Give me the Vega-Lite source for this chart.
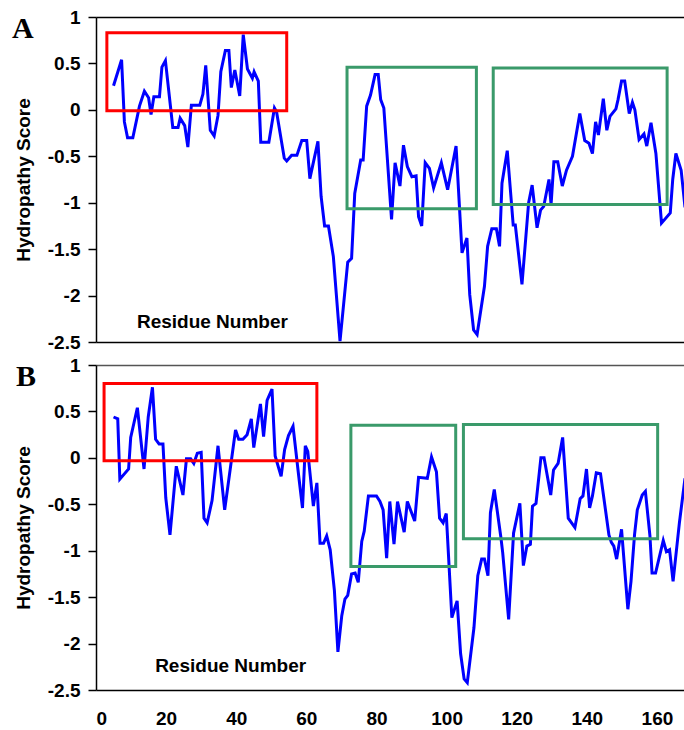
{
  "$schema": "https://vega.github.io/schema/vega-lite/v6.json",
  "background": "white",
  "padding": {"left": 12, "top": 8, "right": 0, "bottom": 0},
  "bounds": "flush",
  "spacing": 23,
  "config": {
    "view": {"stroke": null},
    "font": "Liberation Sans",
    "axis": {
      "labelFont": "Liberation Sans", "labelFontWeight": "bold", "labelFontSize": 19, "labelColor": "black",
      "titleFont": "Liberation Sans", "titleFontWeight": "bold", "titleFontSize": 19, "titleColor": "black",
      "domainColor": "black", "domainWidth": 1.5, "tickColor": "black", "tickWidth": 1.5
    },
    "title": {"font": "Liberation Serif", "fontWeight": "bold", "fontSize": 30, "color": "black", "anchor": "start", "frame": "group", "offset": 0, "baseline": "alphabetic"}
  },
  "datasets": {
    "profileA": [
      {"r":5,"v":0.26},{"r":7.3,"v":0.54},{"r":8.1,"v":-0.13},{"r":9,"v":-0.30},{"r":10.5,"v":-0.30},{"r":12.4,"v":0.04},{"r":13.8,"v":0.20},{"r":15,"v":0.13},{"r":15.7,"v":-0.05},{"r":16.5,"v":0.14},{"r":18.1,"v":0.14},{"r":18.8,"v":0.46},{"r":19.8,"v":0.53},{"r":21.9,"v":-0.19},{"r":23.4,"v":-0.19},{"r":24,"v":-0.09},{"r":25.3,"v":-0.17},{"r":26.2,"v":-0.40},{"r":27.2,"v":0.05},{"r":29.6,"v":0.05},{"r":30.5,"v":0.17},{"r":31.3,"v":0.48},{"r":32.6,"v":-0.22},{"r":33.7,"v":-0.28},{"r":34.8,"v":-0.06},{"r":35.6,"v":0.41},{"r":36.9,"v":0.64},{"r":37.9,"v":0.64},{"r":38.6,"v":0.24},{"r":39.6,"v":0.43},{"r":41,"v":0.15},{"r":42,"v":0.81},{"r":43.2,"v":0.44},{"r":44.6,"v":0.34},{"r":45.1,"v":0.41},{"r":46.3,"v":0.31},{"r":47,"v":-0.35},{"r":49.3,"v":-0.35},{"r":50.9,"v":0.02},{"r":51.5,"v":-0.02},{"r":53.7,"v":-0.52},{"r":54.4,"v":-0.55},{"r":55.8,"v":-0.49},{"r":57.3,"v":-0.49},{"r":58.7,"v":-0.33},{"r":60.1,"v":-0.33},{"r":61,"v":-0.74},{"r":63.3,"v":-0.34},{"r":64.2,"v":-0.93},{"r":65.2,"v":-1.25},{"r":66.3,"v":-1.25},{"r":67.7,"v":-1.58},{"r":69.6,"v":-2.49},{"r":71.8,"v":-1.64},{"r":72.9,"v":-1.60},{"r":73.8,"v":-0.90},{"r":75.5,"v":-0.54},{"r":76.2,"v":-0.54},{"r":77.2,"v":0.04},{"r":78.3,"v":0.16},{"r":79.6,"v":0.38},{"r":80.5,"v":0.38},{"r":81.2,"v":0.11},{"r":82.1,"v":0.02},{"r":84.3,"v":-1.18},{"r":85.3,"v":-0.57},{"r":86.7,"v":-0.82},{"r":87.7,"v":-0.38},{"r":88.8,"v":-0.61},{"r":90.1,"v":-0.72},{"r":91.3,"v":-0.71},{"r":92,"v":-1.15},{"r":92.9,"v":-1.25},{"r":93.9,"v":-0.57},{"r":95.1,"v":-0.63},{"r":96.3,"v":-0.84},{"r":98.5,"v":-0.57},{"r":100.3,"v":-0.86},{"r":102.7,"v":-0.39},{"r":104.4,"v":-1.54},{"r":105.8,"v":-1.38},{"r":106.6,"v":-1.99},{"r":107.7,"v":-2.37},{"r":108.7,"v":-2.42},{"r":110.8,"v":-1.90},{"r":111.7,"v":-1.47},{"r":112.9,"v":-1.28},{"r":114.2,"v":-1.28},{"r":115.1,"v":-1.47},{"r":115.8,"v":-0.79},{"r":117.3,"v":-0.44},{"r":119,"v":-1.24},{"r":119.6,"v":-1.24},{"r":121.5,"v":-1.88},{"r":123.4,"v":-1.00},{"r":124.4,"v":-0.81},{"r":125.8,"v":-1.27},{"r":126.8,"v":-1.08},{"r":127.7,"v":-1.04},{"r":129.2,"v":-0.75},{"r":129.8,"v":-1.02},{"r":130.6,"v":-0.56},{"r":131.7,"v":-0.56},{"r":133,"v":-0.82},{"r":134.2,"v":-0.65},{"r":135.9,"v":-0.50},{"r":138,"v":-0.04},{"r":139.4,"v":-0.33},{"r":140.6,"v":-0.36},{"r":141.6,"v":-0.47},{"r":142.5,"v":-0.13},{"r":143.3,"v":-0.27},{"r":144.7,"v":0.12},{"r":145.7,"v":-0.22},{"r":146.6,"v":-0.07},{"r":148.3,"v":0.01},{"r":148.9,"v":0.11},{"r":149.9,"v":0.31},{"r":150.8,"v":0.31},{"r":152.1,"v":-0.04},{"r":153,"v":0.08},{"r":153.7,"v":0.0},{"r":154.9,"v":-0.32},{"r":156.3,"v":-0.26},{"r":157.1,"v":-0.39},{"r":158.3,"v":-0.14},{"r":159.7,"v":-0.47},{"r":161.3,"v":-1.22},{"r":163.8,"v":-1.11},{"r":164.5,"v":-0.75},{"r":165.4,"v":-0.47},{"r":166.9,"v":-0.65},{"r":168,"v":-1.05}
    ],
    "profileB": [
      {"r":5,"v":0.44},{"r":6.2,"v":0.42},{"r":6.8,"v":-0.23},{"r":9.3,"v":-0.12},{"r":9.9,"v":0.22},{"r":11.8,"v":0.54},{"r":13.7,"v":-0.12},{"r":14.9,"v":0.44},{"r":16.1,"v":0.76},{"r":17,"v":0.20},{"r":18,"v":0.15},{"r":19.1,"v":0.15},{"r":19.9,"v":-0.43},{"r":21.1,"v":-0.83},{"r":22.9,"v":-0.09},{"r":24.8,"v":-0.40},{"r":25.8,"v":-0.01},{"r":27,"v":-0.01},{"r":27.9,"v":-0.06},{"r":28.9,"v":0.05},{"r":30,"v":0.06},{"r":30.8,"v":-0.65},{"r":31.7,"v":-0.70},{"r":33.1,"v":-0.46},{"r":34.8,"v":0.13},{"r":36.7,"v":-0.56},{"r":39.8,"v":0.30},{"r":40.7,"v":0.20},{"r":41.9,"v":0.20},{"r":43.1,"v":0.25},{"r":44.3,"v":0.42},{"r":45,"v":0.11},{"r":46.9,"v":0.58},{"r":47.8,"v":0.23},{"r":48.8,"v":0.62},{"r":50.2,"v":0.74},{"r":51.1,"v":0.02},{"r":52.8,"v":-0.20},{"r":53.8,"v":0.09},{"r":54.9,"v":0.24},{"r":56.2,"v":0.34},{"r":57.8,"v":-0.19},{"r":58.9,"v":-0.54},{"r":59.7,"v":0.13},{"r":60.4,"v":0.07},{"r":62,"v":-0.52},{"r":63,"v":-0.27},{"r":63.9,"v":-0.92},{"r":64.9,"v":-0.92},{"r":65.8,"v":-0.84},{"r":66.8,"v":-0.99},{"r":68,"v":-1.43},{"r":69,"v":-2.09},{"r":70.1,"v":-1.70},{"r":71,"v":-1.52},{"r":71.8,"v":-1.48},{"r":72.9,"v":-1.25},{"r":73.9,"v":-1.24},{"r":74.8,"v":-1.34},{"r":75.8,"v":-0.90},{"r":76.5,"v":-0.79},{"r":77.7,"v":-0.41},{"r":80,"v":-0.41},{"r":81,"v":-0.47},{"r":81.9,"v":-0.56},{"r":82.9,"v":-1.08},{"r":83.8,"v":-0.47},{"r":85,"v":-0.93},{"r":86,"v":-0.47},{"r":87.9,"v":-0.80},{"r":88.8,"v":-0.47},{"r":90.9,"v":-0.68},{"r":92,"v":-0.21},{"r":94.5,"v":-0.22},{"r":95.7,"v":0.01},{"r":97.1,"v":-0.15},{"r":98,"v":-0.65},{"r":99,"v":-0.70},{"r":99.9,"v":-0.60},{"r":101.5,"v":-1.72},{"r":103,"v":-1.54},{"r":104,"v":-2.11},{"r":105,"v":-2.38},{"r":105.9,"v":-2.42},{"r":107.8,"v":-1.83},{"r":108.9,"v":-1.27},{"r":110,"v":-1.09},{"r":110.8,"v":-1.09},{"r":111.8,"v":-1.27},{"r":112.5,"v":-0.59},{"r":113.6,"v":-0.34},{"r":115.5,"v":-0.86},{"r":116,"v":-1.02},{"r":117.7,"v":-1.74},{"r":119.1,"v":-0.81},{"r":120.9,"v":-0.49},{"r":121.9,"v":-1.16},{"r":122.9,"v":-0.95},{"r":123.9,"v":-0.93},{"r":124.5,"v":-0.52},{"r":125.5,"v":-0.49},{"r":126.9,"v":0.00},{"r":127.8,"v":0.00},{"r":129.7,"v":-0.40},{"r":130.5,"v":-0.13},{"r":131.8,"v":-0.06},{"r":133.1,"v":0.22},{"r":134.7,"v":-0.65},{"r":136.6,"v":-0.75},{"r":138.1,"v":-0.44},{"r":138.9,"v":-0.41},{"r":139.9,"v":-0.12},{"r":140.8,"v":-0.54},{"r":141.6,"v":-0.41},{"r":142.7,"v":-0.16},{"r":143.9,"v":-0.17},{"r":146.3,"v":-0.83},{"r":147,"v":-0.91},{"r":147.7,"v":-0.95},{"r":148.5,"v":-1.09},{"r":149.9,"v":-0.77},{"r":151.7,"v":-1.63},{"r":152.6,"v":-1.33},{"r":153.6,"v":-0.83},{"r":154.4,"v":-0.56},{"r":155.8,"v":-0.40},{"r":156.7,"v":-0.36},{"r":158,"v":-0.84},{"r":158.6,"v":-1.24},{"r":159.6,"v":-1.24},{"r":161.8,"v":-0.89},{"r":162.7,"v":-1.01},{"r":163.6,"v":-0.99},{"r":164.6,"v":-1.33},{"r":166.4,"v":-0.70},{"r":168,"v":-0.22}
    ],
    "boxesA": [
      {"region":"hydrophobic","r":3.1,"r2":54.4,"v":0.83,"v2":-0.01},
      {"region":"hydrophilic","r":71.6,"r2":108.5,"v":0.46,"v2":-1.065},
      {"region":"hydrophilic","r":113.3,"r2":162.9,"v":0.45,"v2":-1.02}
    ],
    "boxesB": [
      {"region":"hydrophobic","r":2.3,"r2":63,"v":0.80,"v2":-0.03},
      {"region":"hydrophilic","r":72.7,"r2":102.6,"v":0.35,"v2":-1.17},
      {"region":"hydrophilic","r":104.8,"r2":160.2,"v":0.36,"v2":-0.87}
    ],
    "noteA": [{"r":33.2,"v":-2.28,"label":"Residue Number"}],
    "noteB": [{"r":38.4,"v":-2.24,"label":"Residue Number"}]
  },
  "vconcat": [
    {
      "width": 589,
      "height": 325,
      "title": {"text": "A", "dx": -84, "dy": 40},
      "encoding": {
        "x": {"field": "r", "type": "quantitative", "scale": {"domain": [0, 168], "nice": false, "zero": false},
              "axis": {"labels": false, "ticks": false, "title": null, "domain": true, "grid": false}},
        "y": {"field": "v", "type": "quantitative", "scale": {"domain": [-2.5, 1], "nice": false},
              "axis": {"title": "Hydropathy Score", "values": [-2.5, -2, -1.5, -1, -0.5, 0, 0.5, 1], "labelExpr": "'' + datum.value",
                       "tickSize": 8, "labelPadding": 8, "titlePadding": 14, "grid": true, "gridColor": "black", "gridWidth": 1.5,
                       "gridOpacity": {"condition": {"test": "datum.value === 1", "value": 1}, "value": 0}}}
      },
      "layer": [
        {"data": {"name": "profileA"}, "mark": {"type": "line", "color": "#0000ff", "strokeWidth": 3, "clip": true}},
        {"data": {"name": "boxesA"}, "mark": {"type": "rect", "filled": false, "strokeWidth": 3},
         "encoding": {"x2": {"field": "r2"}, "y2": {"field": "v2"},
                      "color": {"field": "region", "type": "nominal", "scale": {"domain": ["hydrophobic", "hydrophilic"], "range": ["#ff0000", "#3a9a6a"]}, "legend": null}}},
        {"data": {"name": "noteA"}, "mark": {"type": "text", "fontSize": 19, "fontWeight": "bold", "font": "Liberation Sans", "color": "black", "align": "center", "baseline": "middle"},
         "encoding": {"text": {"field": "label"}}}
      ]
    },
    {
      "width": 589,
      "height": 325,
      "title": {"text": "B", "dx": -80, "dy": 40},
      "encoding": {
        "x": {"field": "r", "type": "quantitative", "scale": {"domain": [0, 168], "nice": false, "zero": false},
              "axis": {"values": [0, 20, 40, 60, 80, 100, 120, 140, 160], "labelExpr": "'' + datum.value", "ticks": false, "labelPadding": 19, "title": null, "grid": false}},
        "y": {"field": "v", "type": "quantitative", "scale": {"domain": [-2.5, 1], "nice": false},
              "axis": {"title": "Hydropathy Score", "values": [-2.5, -2, -1.5, -1, -0.5, 0, 0.5, 1], "labelExpr": "'' + datum.value",
                       "tickSize": 8, "labelPadding": 8, "titlePadding": 14, "grid": true, "gridColor": "#555555", "gridWidth": 1.5,
                       "gridOpacity": {"condition": {"test": "datum.value === 1", "value": 1}, "value": 0}}}
      },
      "layer": [
        {"data": {"name": "profileB"}, "mark": {"type": "line", "color": "#0000ff", "strokeWidth": 3, "clip": true}},
        {"data": {"name": "boxesB"}, "mark": {"type": "rect", "filled": false, "strokeWidth": 3},
         "encoding": {"x2": {"field": "r2"}, "y2": {"field": "v2"},
                      "color": {"field": "region", "type": "nominal", "scale": {"domain": ["hydrophobic", "hydrophilic"], "range": ["#ff0000", "#3a9a6a"]}, "legend": null}}},
        {"data": {"name": "noteB"}, "mark": {"type": "text", "fontSize": 19, "fontWeight": "bold", "font": "Liberation Sans", "color": "black", "align": "center", "baseline": "middle"},
         "encoding": {"text": {"field": "label"}}}
      ]
    }
  ]
}
